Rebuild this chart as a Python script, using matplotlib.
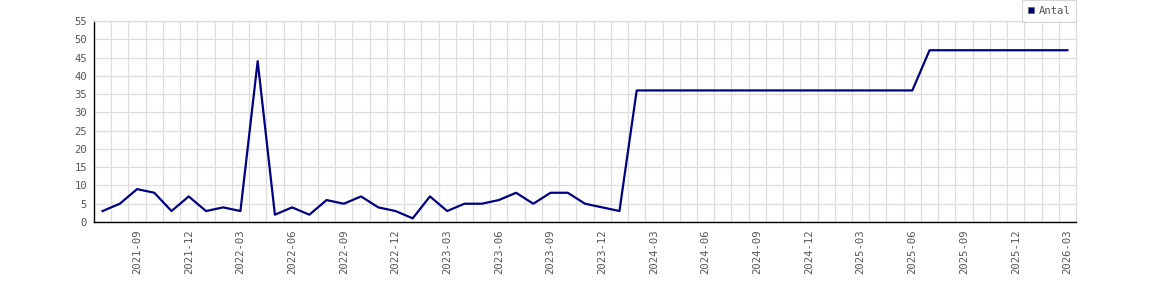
import numpy as np
import pandas as pd
import matplotlib
matplotlib.use('Agg')
import matplotlib.pyplot as plt
from matplotlib.lines import Line2D

# Données mensuelles (2021-07 -> 2026-03)
months = pd.period_range('2021-07', '2026-03', freq='M').strftime('%Y-%m').tolist()
antal = [3, 5, 9, 8, 3, 7, 3, 4, 3, 44, 2, 4,
         2, 6, 5, 7, 4, 3, 1, 7, 3, 5, 5, 6,
         8, 5, 8, 8, 5, 4, 3, 36, 36, 36, 36, 36,
         36, 36, 36, 36, 36, 36, 36, 36, 36, 36, 36, 36,
         47, 47, 47, 47, 47, 47, 47, 47, 47]
serie_label = 'Antal'

txt_color = '#555555'
plt.rcParams['font.family'] = ['DejaVu Sans Mono']

fig = plt.figure(figsize=(11.7, 3.0), dpi=100)
ax = fig.add_axes([94/1170, 78/300, (1076-94)/1170, (222-21)/300])

x = np.arange(len(months))
ax.plot(x, antal, color='#000080', linewidth=1.6, zorder=3)

ax.set_xlim(-0.5, len(months) - 0.5)
ax.set_ylim(0, 55)

# Grille : verticale entre les mois, horizontale tous les 5
ax.set_yticks(np.arange(0, 56, 5))
ax.set_xticks(np.arange(0.5, len(months) - 0.5, 1), minor=True)
ax.grid(True, which='minor', axis='x', color='#dddddd', linewidth=0.9)
ax.grid(True, which='major', axis='y', color='#dddddd', linewidth=0.9)
ax.set_axisbelow(True)

idx = [i for i, m in enumerate(months) if m[5:] in ('03', '06', '09', '12')]
ax.set_xticks(idx)
ax.set_xticklabels([months[i] for i in idx], rotation=90)

ax.tick_params(axis='both', which='both', length=0, labelsize=7.6, labelcolor=txt_color)
ax.tick_params(axis='y', pad=5)
ax.tick_params(axis='x', pad=5)

for s in ('top', 'right'):
    ax.spines[s].set_color('#dddddd')
    ax.spines[s].set_linewidth(0.9)
for s in ('left', 'bottom'):
    ax.spines[s].set_color('black')
    ax.spines[s].set_linewidth(1.0)

handle = Line2D([], [], marker='s', linestyle='none', markersize=4.5,
                markerfacecolor='#000080', markeredgecolor='#666666', markeredgewidth=0.6)
leg = fig.legend([handle], [serie_label], loc='upper right',
                 bbox_to_anchor=(1076/1170, 1.0), fontsize=7.6,
                 frameon=True, fancybox=False, handlelength=0.7,
                 handletextpad=0.3, borderpad=0.55, borderaxespad=0.0)
leg.get_frame().set_edgecolor('#cccccc')
leg.get_frame().set_linewidth(0.8)
for t in leg.get_texts():
    t.set_color(txt_color)

fig.savefig('out.png', dpi=100)
